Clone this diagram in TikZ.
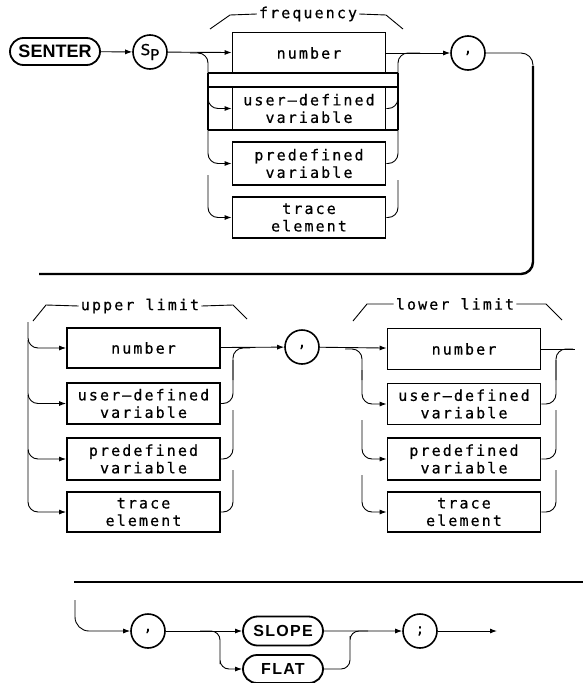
\documentclass[tikz,border=0pt]{standalone}
\usepackage{fontspec}
\usetikzlibrary{arrows.meta,shapes.misc}
\newfontfamily\lbl[LetterSpace=14,FakeBold=0.6]{DejaVu Sans Mono}
\newfontfamily\spfont[FakeBold=0.6]{DejaVu Sans}
\newfontfamily\kwA{Liberation Sans}
\newfontfamily\kwB[LetterSpace=8]{Liberation Sans}
\tikzset{
  box/.style={draw,line width=1.8pt,minimum width=153pt,minimum height=41pt,inner sep=0pt,align=center,font=\lbl\fontsize{15}{17.5}\selectfont},
  kw/.style={draw,rounded rectangle,line width=1.8pt,inner sep=0pt},
  circ/.style={draw,circle,line width=1.6pt,minimum size=34pt,inner sep=0pt},
  conn/.style={line width=0.9pt},
  arr/.style={conn,-{Latex[length=7pt,width=5pt]}},
  thickln/.style={line width=2.4pt},
  brk/.style={line width=0.9pt},
  lab/.style={font=\lbl\fontsize{15}{15}\selectfont,inner sep=2pt}
}
\begin{document}
\begin{tikzpicture}[x=1pt,y=-1pt]
\useasboundingbox (0,0) rectangle (583,683);
% ---------- top section ----------
\node[kw,minimum width=90pt,minimum height=27pt,font=\kwA\bfseries\fontsize{18}{18}\selectfont] (senter) at (55,51.5) {SENTER};
\node[circ] (sp) at (150,52) {\spfont\fontsize{15}{15}\selectfont S\raisebox{-5pt}{P}};
\node[circ] (c1) at (468,53) {\lbl\fontsize{14}{14}\selectfont ,};
\node[box] (f1) at (309,53) {number};
\node[box,minimum height=43pt] (f2) at (309,108.5) {user–defined\\variable};
\node[box,minimum height=43pt] (f3) at (309,163.5) {predefined\\variable};
\node[box] (f4) at (309,217.5) {trace\\element};
% odd thick frame lines
\draw[thickln] (208,73) -- (398,73) (208,87) -- (398,87) (208,130) -- (398,130)
  (208,73) -- (208,130) (398,73) -- (398,130);
% frequency bracket
\node[lab] (freq) at (308,14) {frequency};
\draw[brk] (210,29) -- (230,15) -- (freq.west);
\draw[brk] (freq.east) -- (386,15) -- (403,29);
% connectors
\draw[arr] (senter) -- (sp);
\draw[arr] (sp) -- (f1);
\draw[conn,rounded corners=10pt] (190,53) -| (208,108);
\draw[arr,rounded corners=10pt] (208,80) |- (f2.west);
\draw[arr,rounded corners=10pt] (208,120) |- (f3.west);
\draw[arr,rounded corners=10pt] (208,175) |- (f4.west);
\draw[conn,rounded corners=10pt] (f4.east) -| (398,180);
\draw[conn,rounded corners=10pt] (f3.east) -| (398,125);
\draw[conn,rounded corners=10pt] (f2.east) -| (398,80);
\draw[conn,rounded corners=10pt] (398,100) |- (420,53);
\draw[arr] (f1) -- (c1);
\draw[conn,rounded corners=12pt] (c1) -- (533,53) -- (533,90);
\draw[thickln,rounded corners=12pt] (533,66) -- (533,274) -- (39,274);
% ---------- middle section ----------
\node[lab] (upl) at (140,306) {upper limit};
\draw[brk] (33,321) -- (46,305) -- (upl.west);
\draw[brk] (upl.east) -- (233,305) -- (247,319);
\node[box,minimum height=40pt] (u1) at (143.5,348) {number};
\node[box] (u2) at (143.5,403.5) {user–defined\\variable};
\node[box,minimum height=42pt] (u3) at (143.5,459) {predefined\\variable};
\node[box,minimum height=40pt] (u4) at (143.5,512) {trace\\element};
\draw[arr,rounded corners=10pt] (28,322) |- (u1.west);
\draw[arr,rounded corners=10pt] (28,340) |- (u2.west);
\draw[arr,rounded corners=10pt] (28,395) |- (u3.west);
\draw[arr,rounded corners=10pt] (28,450) |- (u4.west);
\draw[conn,rounded corners=10pt] (u4.east) -| (233,470);
\draw[conn,rounded corners=10pt] (u3.east) -| (233,410);
\draw[conn,rounded corners=10pt] (u2.east) -| (233,360);
\draw[conn,rounded corners=10pt] (233,380) |- (250,348);
\node[circ] (c2) at (302,347) {\lbl\fontsize{14}{14}\selectfont ,};
\draw[arr] (u1) -- (c2);
\node[lab] (lol) at (455,304) {lower limit};
\draw[brk] (353,321) -- (367,304) -- (lol.west);
\draw[brk] (lol.east) -- (546,304) -- (562,320);
\node[box] (l1) at (464,349) {number};
\node[box] (l2) at (464,404) {user–defined\\variable};
\node[box,minimum height=42pt] (l3) at (464,459) {predefined\\variable};
\node[box,minimum height=40pt] (l4) at (464,512) {trace\\element};
\draw[arr] (c2) -- (l1);
\draw[conn,rounded corners=10pt] (345,349) -| (362,380);
\draw[arr,rounded corners=10pt] (362,370) |- (l2.west);
\draw[arr,rounded corners=10pt] (362,420) |- (l3.west);
\draw[arr,rounded corners=10pt] (362,475) |- (l4.west);
\draw[conn,rounded corners=10pt] (l4.east) -| (556,470);
\draw[conn,rounded corners=10pt] (l3.east) -| (556,410);
\draw[conn,rounded corners=10pt] (l2.east) -| (556,360);
\draw[conn,rounded corners=10pt] (556,380) |- (573,349);
\coordinate (lend) at (575,349);
\draw[conn] (l1.east) -- (lend);
% ---------- bottom section ----------
\draw[thickln] (74,582) -- (583,582);
\node[circ] (c3) at (148,631) {\lbl\fontsize{14}{14}\selectfont ,};
\node[kw,minimum width=80pt,minimum height=29pt,font=\kwB\bfseries\fontsize{16}{16}\selectfont] (slope) at (283,631) {SLOPE};
\node[kw,minimum width=80pt,minimum height=28pt,font=\kwB\bfseries\fontsize{16}{16}\selectfont] (flat) at (283,669) {FLAT};
\node[circ] (c4) at (420,631) {\lbl\fontsize{14}{14}\selectfont ;};
\coordinate (bstart) at (75,600);
\coordinate (endp) at (497,631);
\draw[arr,rounded corners=14pt] (bstart) |- (c3.west);
\draw[arr] (c3) -- (slope);
\draw[arr,rounded corners=9pt] (200,631) -| (220,655) |- (flat.west);
\draw[conn,rounded corners=9pt] (flat.east) -| (350,645) |- (368,631);
\draw[arr] (slope) -- (c4);
\draw[arr] (c4) -- (endp);
\end{tikzpicture}
\end{document}
